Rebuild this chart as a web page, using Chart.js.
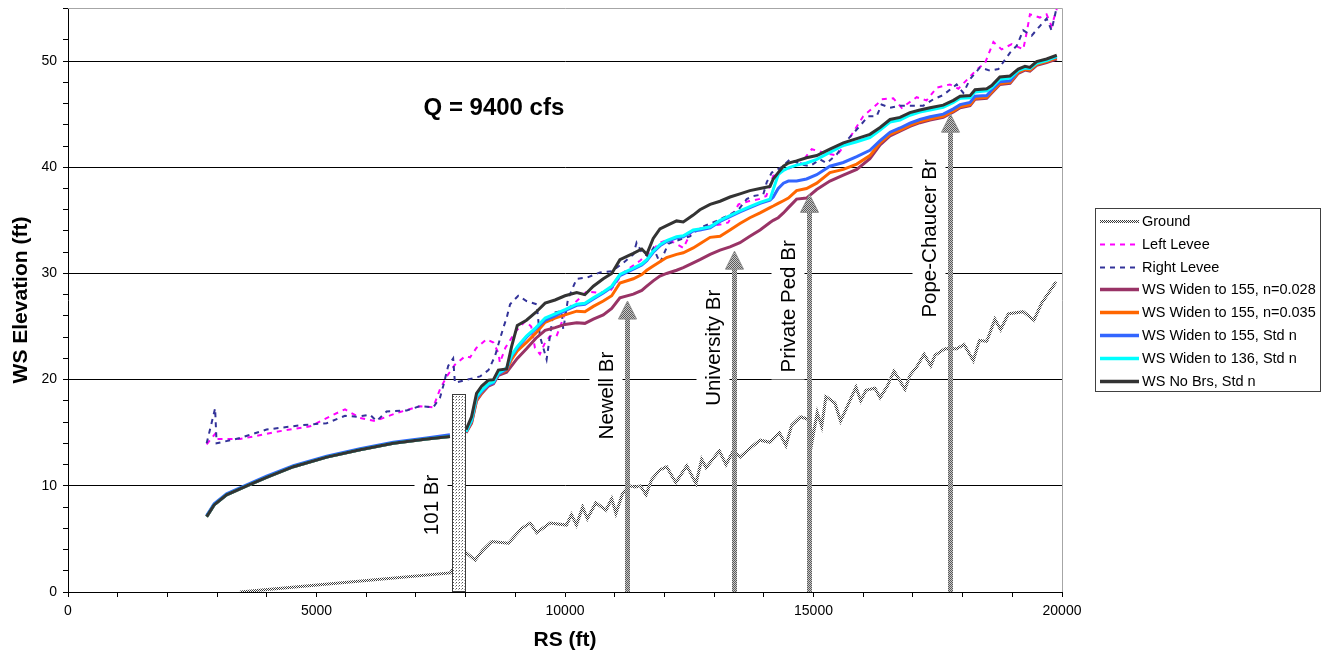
<!DOCTYPE html>
<html><head><meta charset="utf-8">
<script src="https://cdn.jsdelivr.net/npm/chart.js@4.4.1/dist/chart.umd.min.js"></script>
<style>html,body{margin:0;padding:0;background:#fff;}#wrap{width:1328px;height:658px;}</style>
</head><body><div id="wrap"><canvas id="c" width="1328" height="658"></canvas></div>
<script>
// ---------- DATA ----------
const wsRS = [2790,2940,3190,3595,3995,4535,5205,5875,6545,7215,7685,7850,
  8010,8120,8220,8325,8460,8560,8660,8825,8925,9040,9225,9415,9600,9800,10000,10235,10400,10570,10770,10940,
  11105,11375,11545,11645,11775,11910,12045,12245,12380,12580,12715,12920,13120,13320,13520,13720,13925,14125,
  14190,14290,14395,14495,14660,14860,15065,15330,15600,15870,16135,16340,16540,16740,16940,17140,17345,17610,
  17815,17950,18150,18250,18485,18585,18750,18955,19120,19255,19355,19490,19690,19895];

const wsNoBrs = [7.1,8.2,9.15,10.0,10.8,11.8,12.7,13.4,14.0,14.4,14.65,null,
  15.3,16.5,18.7,19.4,19.95,20.0,20.9,21.0,23.1,25.1,25.6,26.35,27.2,27.5,27.9,28.2,28.0,28.8,29.5,30.0,
  31.3,31.9,32.3,31.8,33.3,34.2,34.5,34.95,34.85,35.5,36.0,36.5,36.8,37.2,37.5,37.8,38.0,38.2,
  38.9,39.5,40.1,40.4,40.6,40.9,41.1,41.7,42.3,42.7,43.1,43.75,44.5,44.7,45.15,45.4,45.6,45.85,
  46.3,46.7,46.75,47.3,47.4,47.7,48.5,48.6,49.25,49.5,49.4,49.95,50.2,50.55];

const ws136Std = [7.1,8.2,9.15,10.0,10.8,11.8,12.7,13.4,14.0,14.4,14.65,null,
  15.1,16.2,18.4,19.0,19.6,19.8,20.6,21.1,22.3,23.1,24.1,24.9,25.8,26.2,26.6,27.1,27.2,27.7,28.25,28.8,
  29.9,30.5,30.9,31.3,32.1,32.7,33.1,33.45,33.55,34.1,34.2,34.4,35.0,35.45,35.9,36.3,36.7,37.0,
  37.9,39.3,39.7,39.95,40.2,40.4,40.75,41.4,42.05,42.4,42.8,43.5,44.25,44.45,44.9,45.2,45.4,45.65,
  46.1,46.5,46.55,47.1,47.2,47.5,48.3,48.4,49.1,49.35,49.3,49.8,50.05,50.45];

const ws155Std = [7.2,8.3,9.25,10.1,10.9,11.9,12.8,13.5,14.1,14.5,14.8,null,
  15.1,16.1,18.3,18.9,19.5,19.7,20.5,21.0,22.2,23.0,24.0,24.8,25.6,26.0,26.5,27.0,27.1,27.6,28.15,28.7,
  29.8,30.4,30.8,31.2,32.0,32.6,33.0,33.35,33.45,34.0,34.1,34.3,34.9,35.35,35.8,36.2,36.6,36.9,
  37.2,38.0,38.5,38.7,38.7,38.9,39.3,40.1,40.45,41.0,41.6,42.5,43.3,43.7,44.15,44.5,44.75,45.0,
  45.5,45.9,46.1,46.7,46.75,47.3,48.05,48.15,49.1,49.4,49.3,49.85,50.1,50.4];

const ws155n035 = [7.1,8.2,9.15,10.0,10.8,11.8,12.7,13.4,14.0,14.4,14.65,null,
  15.1,16.0,18.1,18.8,19.5,19.7,20.5,20.9,21.9,22.7,23.5,24.4,25.4,25.8,26.1,26.45,26.4,26.9,27.4,27.9,
  29.1,29.5,29.9,30.3,30.7,31.1,31.5,31.8,31.95,32.4,32.8,33.4,33.5,34.1,34.7,35.25,35.7,36.2,
  36.35,36.6,36.85,37.1,37.8,38.0,38.5,39.5,39.8,40.3,41.1,42.3,43.1,43.5,43.95,44.3,44.55,44.8,
  45.3,45.7,45.9,46.5,46.6,47.1,47.9,48.0,48.95,49.25,49.15,49.7,49.95,50.3];

const ws155n028 = [7.1,8.2,9.15,10.0,10.8,11.8,12.7,13.4,14.0,14.4,14.65,null,
  15.0,15.9,18.0,18.7,19.4,19.6,20.4,20.7,21.3,22.0,22.9,23.9,24.65,24.9,25.2,25.35,25.3,25.7,26.1,26.7,
  27.7,28.05,28.4,28.8,29.3,29.75,30.0,30.3,30.55,31.0,31.3,31.8,32.2,32.5,32.9,33.5,34.1,34.8,
  35.0,35.25,35.7,36.2,37.0,37.1,37.9,38.7,39.25,39.8,40.8,42.1,42.95,43.4,43.85,44.2,44.45,44.7,
  45.2,45.6,45.8,46.4,46.5,47.0,47.8,47.9,48.85,49.15,49.05,49.6,49.85,50.2];

const groundRS = [3460,7690,8010,8190,8340,8525,8860,9130,9300,9430,9700,10030,10130,10230,10355,10450,10620,10825,10940,11025,
  11160,11295,11410,11520,11630,11745,11910,12045,12230,12450,12635,12750,12840,13105,13240,13385,13520,13790,13925,14125,
  14315,14445,14560,14740,14930,14965,15075,15165,15250,15430,15545,15700,15855,15950,16055,16235,16340,16485,16620,16725,
  16840,16940,17075,17225,17360,17445,17645,17880,18030,18215,18340,18485,18650,18765,18920,19220,19435,19590,19880];
const groundZ = [0,1.8,3.7,3.0,3.9,4.75,4.6,6.0,6.5,5.6,6.5,6.3,7.3,6.3,8.0,6.9,8.4,7.7,8.8,7.4,
  9.3,10.0,9.9,10.0,9.15,10.6,11.5,11.8,10.3,11.9,10.2,12.5,11.7,13.3,12.0,13.3,12.7,13.8,14.3,14.1,
  15.0,13.8,15.7,16.5,16.2,14.0,16.9,15.6,18.4,17.8,16.1,17.7,19.3,18.0,19.0,19.2,18.3,19.4,20.8,20.0,
  19.1,20.4,21.2,22.4,21.3,22.3,22.9,22.9,23.3,21.8,23.7,23.6,25.7,24.7,26.2,26.4,25.6,27.2,29.2];

const leftLeveeRS = [2790,2960,2990,3460,3730,4200,4870,5340,5575,5875,6175,6610,7080,7350,7485,7620,7785,7990,8090,8220,
  8420,8560,8660,8690,8800,9000,9200,9320,9395,9495,9600,9700,9830,10030,10235,10435,10635,10905,11175,11510,
  11775,11910,12080,12380,12550,12920,13120,13285,13490,13690,13900,14050,14190,14460,14730,14965,15195,15465,15665,15800,
  16000,16270,16370,16605,16775,17075,17275,17480,17745,17915,18285,18450,18620,18785,18990,19220,19290,19355,19555,19690,19790,19895];
const leftLevee = [13.9,14.9,14.4,14.4,14.65,15.1,15.6,16.7,17.2,16.4,16.1,16.85,17.5,17.4,19.1,20.3,21.4,22.2,22.1,23.0,
  23.8,23.5,22.5,21.6,23.0,24.5,25.5,25.0,23.0,22.4,23.5,24.1,24.1,26.6,27.4,28.3,28.2,28.3,30.1,31.2,
  32.3,32.9,33.2,32.4,34.0,34.5,34.6,34.8,36.5,36.8,37.0,37.3,39.2,39.8,40.3,41.7,41.4,41.1,42.3,43.3,
  44.8,45.9,46.4,46.5,45.6,46.6,46.3,47.5,47.8,47.4,49.2,49.8,51.8,51.1,51.6,51.1,52.7,54.4,54.1,54.4,53.3,54.9];

const rightLeveeRS = [2790,2960,2990,3460,3995,4670,5205,5575,5810,6075,6210,6410,6815,7080,7350,7485,7550,7650,7750,7785,
  8290,8460,8590,8690,8760,8825,8895,9060,9225,9430,9495,9630,9765,9935,9965,10060,10235,10435,10705,10940,
  11175,11375,11440,11545,11675,11780,11910,12080,12315,12515,12715,13050,13255,13490,13655,13790,13990,14060,14160,14350,
  14530,14730,14930,15130,15265,15465,15665,15935,16100,16270,16370,16540,16740,16940,17210,17410,17610,17880,18015,18150,
  18350,18550,18720,18955,19090,19220,19390,19555,19690,19790,19895];
const rightLevee = [14.0,17.3,14.0,14.5,15.3,15.7,15.9,16.6,16.5,16.7,16.1,17.0,17.1,17.5,17.4,18.3,19.4,21.3,22.0,19.7,
  20.3,20.9,22.2,23.8,24.9,25.8,27.1,27.9,27.4,27.1,24.1,21.9,26.3,26.45,24.7,27.6,29.5,29.6,30.1,30.2,
  31.0,31.8,32.9,32.0,31.6,32.4,31.0,32.8,33.2,33.5,34.3,34.95,35.4,36.0,37.0,37.3,37.45,38.6,39.5,40.0,
  40.75,40.3,40.1,40.75,40.4,41.2,42.5,43.9,44.8,44.8,45.9,45.6,45.8,45.8,45.8,46.4,46.8,47.8,47.0,48.3,
  49.4,49.1,49.25,50.8,51.45,52.9,52.4,53.3,54.0,52.9,55.1];

// Bridges
const deckName = '101 Br';
const deckRS = [7720, 8010];
const deckTop = 18.65;
const bridgeNames = ['Newell Br', 'University Br', 'Private Ped Br', 'Pope-Chaucer Br'];
const bridgeRS = [11240, 13400, 14900, 17750];
const arrowTop = [27.4, 32.1, 37.45, 45.0];

// tick labels
const xTickLabels = [0, 5000, 10000, 15000, 20000];
const yTickLabels = [0, 10, 20, 30, 40, 50];

// ---------- LAYOUT / STYLE ----------
const labelElev = [18.5, 23.0, 26.9, 33.3];
const deckLabelElev = 8.2;
const titleText = 'Q = 9400 cfs';
const titleAt = { rs: 8570, elev: 45.5 };
const FONT = '"Liberation Sans", Arial, Helvetica, sans-serif';

const canvas = document.getElementById('c');
const ctx0 = canvas.getContext('2d');
function checker(a, b) {
  const p = document.createElement('canvas'); p.width = 2; p.height = 2;
  const g = p.getContext('2d');
  g.fillStyle = a; g.fillRect(0, 0, 2, 2);
  g.fillStyle = b; g.fillRect(0, 0, 1, 1); g.fillRect(1, 1, 1, 1);
  return ctx0.createPattern(p, 'repeat');
}
function dots() {
  const p = document.createElement('canvas'); p.width = 3; p.height = 3;
  const g = p.getContext('2d');
  g.fillStyle = '#fff'; g.fillRect(0, 0, 3, 3);
  g.fillStyle = '#555'; g.fillRect(0, 0, 1, 1);
  g.fillStyle = '#aaa'; g.fillRect(2, 1, 1, 1);
  return ctx0.createPattern(p, 'repeat');
}
const groundPat = checker('#ffffff', '#3a3a3a');
const arrowPat = checker('#c8c8c8', '#5a5a5a');
const deckPat = dots();

const pts = (xs, ys) => xs.map((x, i) => ({ x: x, y: ys[i] }));

const datasets = [
  { label: 'Ground', data: pts(groundRS, groundZ), borderColor: groundPat, borderWidth: 3, order: 7, kind: 'ground' },
  { label: 'Left Levee', data: pts(leftLeveeRS, leftLevee), borderColor: '#FF00FF', borderWidth: 2, borderDash: [5, 5], order: 6 },
  { label: 'Right Levee', data: pts(rightLeveeRS, rightLevee), borderColor: '#333399', borderWidth: 2, borderDash: [5, 5], order: 5 },
  { label: 'WS Widen to 155, n=0.028', data: pts(wsRS, ws155n028), borderColor: '#993366', borderWidth: 3, order: 4 },
  { label: 'WS Widen to 155, n=0.035', data: pts(wsRS, ws155n035), borderColor: '#FF6600', borderWidth: 3, order: 3 },
  { label: 'WS Widen to 155, Std n', data: pts(wsRS, ws155Std), borderColor: '#3366FF', borderWidth: 3, order: 2 },
  { label: 'WS Widen to 136, Std n', data: pts(wsRS, ws136Std), borderColor: '#00FFFF', borderWidth: 3, order: 1 },
  { label: 'WS No Brs, Std n', data: pts(wsRS, wsNoBrs), borderColor: '#333333', borderWidth: 3, order: 0 }
].map(d => Object.assign({ showLine: true, pointRadius: 0, tension: 0, spanGaps: false, fill: false, borderJoinStyle: 'miter' }, d));

function vLabel(ctx, text, cx, cy) {
  ctx.save();
  ctx.font = '20.5px ' + FONT;
  const w = ctx.measureText(text).width;
  ctx.fillStyle = '#fff';
  ctx.fillRect(cx - 16.5, cy - w / 2 - 7, 33, w + 14);
  ctx.translate(cx, cy);
  ctx.rotate(-Math.PI / 2);
  ctx.fillStyle = '#000';
  ctx.textAlign = 'center';
  ctx.textBaseline = 'middle';
  ctx.fillText(text, 0, 1);
  ctx.restore();
}

const decor = {
  id: 'decor',
  afterDatasetsDraw(chart) {
    const { ctx, chartArea: ca } = chart;
    const xs = chart.scales.x, ys = chart.scales.y;
    ctx.save();
    // plot frame top/right
    ctx.strokeStyle = '#a6a6a6'; ctx.lineWidth = 1;
    ctx.beginPath();
    ctx.moveTo(ca.left, Math.round(ca.top) + 0.5);
    ctx.lineTo(Math.round(ca.right) + 0.5, Math.round(ca.top) + 0.5);
    ctx.lineTo(Math.round(ca.right) + 0.5, ca.bottom);
    ctx.stroke();

    const base = ys.getPixelForValue(0);
    // 101 bridge deck
    const bx0 = Math.round(xs.getPixelForValue(deckRS[0])), bx1 = Math.round(xs.getPixelForValue(deckRS[1]));
    const byT = Math.round(ys.getPixelForValue(deckTop));
    ctx.fillStyle = deckPat;
    ctx.fillRect(bx0, byT, bx1 - bx0, base - byT);
    ctx.strokeStyle = '#3c3c3c'; ctx.lineWidth = 1;
    ctx.strokeRect(bx0 + 0.5, byT + 0.5, bx1 - bx0 - 1, base - byT - 1);
    vLabel(ctx, deckName, bx0 - 21, ys.getPixelForValue(deckLabelElev));

    // bridge arrows
    bridgeRS.forEach((rs, i) => {
      const px = Math.round(xs.getPixelForValue(rs));
      const tip = ys.getPixelForValue(arrowTop[i]);
      const headH = 18, headW = 9;
      ctx.fillStyle = arrowPat;
      ctx.fillRect(px - 2, tip + headH - 1, 5, base - (tip + headH - 1));
      ctx.strokeStyle = '#8a8a8a'; ctx.lineWidth = 1;
      ctx.beginPath();
      ctx.moveTo(px + 0.5, tip);
      ctx.lineTo(px + 0.5 + headW, tip + headH);
      ctx.lineTo(px + 0.5 - headW, tip + headH);
      ctx.closePath();
      ctx.fill();
      ctx.stroke();
      vLabel(ctx, bridgeNames[i], px - 21, ys.getPixelForValue(labelElev[i]));
    });

    // title
    ctx.fillStyle = '#000';
    ctx.font = 'bold 24px ' + FONT;
    ctx.textAlign = 'center';
    ctx.textBaseline = 'middle';
    ctx.fillText(titleText, xs.getPixelForValue(titleAt.rs), ys.getPixelForValue(titleAt.elev));
    ctx.restore();
  },
  afterDraw(chart) {
    const ctx = chart.ctx;
    ctx.save();
    const L = 1095.5, T = 208.5, W = 225, H = 183;
    ctx.fillStyle = '#fff';
    ctx.fillRect(L, T, W, H);
    ctx.strokeStyle = '#404040'; ctx.lineWidth = 1;
    ctx.strokeRect(L, T, W, H);
    ctx.font = '14.5px ' + FONT;
    ctx.textBaseline = 'middle';
    ctx.textAlign = 'left';
    chart.data.datasets.forEach((d, i) => {
      const y = Math.round(220.7 + i * 22.9) + 0.5;
      ctx.save();
      ctx.strokeStyle = d.borderColor;
      ctx.lineWidth = d.kind === 'ground' ? 3 : (d.borderDash ? 2 : 3.5);
      ctx.setLineDash(d.borderDash || []);
      ctx.beginPath(); ctx.moveTo(1100, y); ctx.lineTo(1139, y); ctx.stroke();
      ctx.restore();
      ctx.fillStyle = '#000';
      ctx.fillText(d.label, 1142, y + 0.5);
    });
    ctx.restore();
  }
};

const tickFont = { family: FONT, size: 14 };
const titleFont = { family: FONT, size: 21, weight: 'bold' };

new Chart(canvas, {
  type: 'scatter',
  data: { datasets },
  options: {
    responsive: false,
    animation: false,
    devicePixelRatio: 1,
    layout: { padding: { top: 8, right: 266, left: 0, bottom: 0 } },
    plugins: { legend: { display: false }, tooltip: { enabled: false } },
    scales: {
      x: {
        type: 'linear', min: 0, max: 20000,
        ticks: { stepSize: 1000, autoSkip: false, maxRotation: 0, color: '#000', font: tickFont, padding: 6,
          callback: v => xTickLabels.includes(v) ? String(v) : '' },
        grid: { drawOnChartArea: false, drawTicks: true, tickLength: 5, tickColor: '#000', color: '#000' },
        border: { color: '#000', width: 1 },
        title: { display: true, text: 'RS (ft)', color: '#000', font: titleFont, padding: { top: 0, bottom: 5 } },
        afterFit: s => { s.height = 66; s.paddingLeft = 0; s.paddingRight = 0; }
      },
      y: {
        type: 'linear', min: 0, max: 55,
        ticks: { stepSize: 2, autoSkip: false, color: '#000', font: tickFont, padding: 6,
          callback: v => yTickLabels.includes(v) ? String(v) : '' },
        grid: {
          drawTicks: true, tickLength: 5, tickColor: '#000',
          color: c => (c.tick && c.tick.value % 10 === 0 && c.tick.value > 0 && c.tick.value < 55) ? '#000' : 'rgba(0,0,0,0)'
        },
        border: { color: '#000', width: 1 },
        title: { display: true, text: 'WS Elevation (ft)', color: '#000', font: titleFont, padding: { top: 9, bottom: 0 } },
        afterFit: s => { s.width = 68; s.paddingTop = 0; s.paddingBottom = 0; }
      }
    }
  },
  plugins: [decor]
});
</script></body></html>
